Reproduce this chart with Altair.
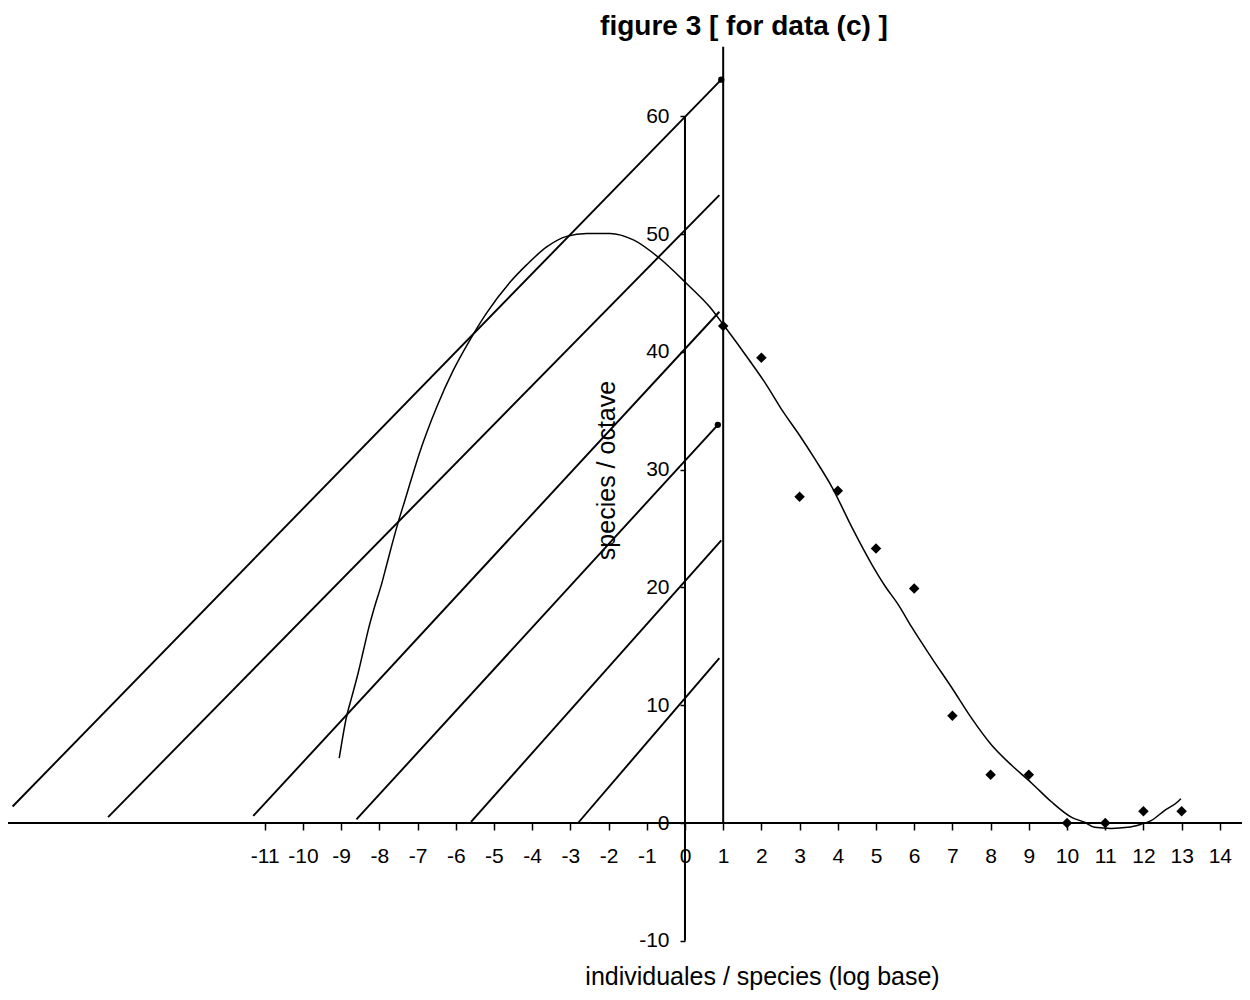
import altair as alt
import pandas as pd

# ---------------- data ----------------
curve_x = [-9.05, -8.86, -8.73, -8.55, -8.42, -8.29, -8.12, -7.94, -7.81, -7.68,
           -7.51, -7.33, -7.2, -6.94, -6.5, -6.07, -5.63, -5.19, -4.58, -4.14,
           -3.62, -3.1, -2.57, -1.96, -1.35, -0.65, 0.04, 0.65, 1.05, 1.68,
           2.11, 2.55, 2.98, 3.42, 3.85, 4.37, 4.9, 5.24, 5.59, 5.94,
           6.46, 6.98, 7.5, 8.03, 8.55, 9.07, 9.59, 10.11, 10.46, 10.72,
           11.16, 11.59, 11.94, 12.2, 12.55, 12.9, 12.98]
curve_y = [5.5, 9.0, 10.6, 12.8, 14.6, 16.4, 18.4, 20.3, 21.9, 23.5,
           25.5, 27.4, 28.8, 31.5, 35.3, 38.4, 41.0, 43.3, 45.9, 47.4,
           48.9, 49.8, 50.05, 50.05, 49.5, 47.9, 45.8, 43.8, 42.1, 39.3,
           37.3, 35.0, 33.0, 30.8, 28.5, 25.1, 21.9, 20.1, 18.5, 16.6,
           14.0, 11.5, 8.9, 6.6, 4.9, 3.4, 1.8, 0.5, 0.06, -0.37,
           -0.46, -0.37, -0.1, 0.2, 1.06, 1.8, 2.06]

obs_x = [1, 2, 3, 4, 5, 6, 7, 8, 9, 10, 11, 12, 13]
obs_y = [42.2, 39.5, 27.7, 28.2, 23.3, 19.9, 9.1, 4.1, 4.1, 0, 0, 1.0, 1.0]

seg_x1 = [-17.6, -15.1, -11.3, -8.6, -5.6, -2.8]
seg_y1 = [1.4, 0.5, 0.6, 0.3, 0.1, 0.0]
seg_x2 = [0.95, 0.9, 0.9, 0.86, 0.95, 0.9]
seg_y2 = [63.1, 53.3, 43.4, 33.8, 24.0, 14.0]

dot_x = [0.95, 0.86]
dot_y = [63.1, 33.8]

x_ticks = list(range(-11, 15))
y_ticks = [-10, 0, 10, 20, 30, 40, 50, 60]

y_axis_span = [-10, 60]
x1_line_span = [0, 65.9]

X_DOMAIN = [-17.72, 14.58]
Y_DOMAIN = [-11.63, 66.47]

W, H = 1234, 920
FONT = "Liberation Sans"
HYPHEN = "replace(datum.label, '\u2212', '-')"

# ---------------- tables ----------------
curve_df = pd.DataFrame({"x": curve_x, "y": curve_y, "i": list(range(len(curve_x)))})
obs_df = pd.DataFrame({"x": obs_x, "y": obs_y})
seg_df = pd.DataFrame({"x": seg_x1, "y": seg_y1, "x2": seg_x2, "y2": seg_y2})
dot_df = pd.DataFrame({"x": dot_x, "y": dot_y})
yax_df = pd.DataFrame({"x": [0], "y": [y_axis_span[0]], "y2": [y_axis_span[1]]})
x1_df = pd.DataFrame({"x": [1], "y": [x1_line_span[0]], "y2": [x1_line_span[1]]})
xax_df = pd.DataFrame({"y": [0]})

xs = alt.Scale(domain=X_DOMAIN, nice=False, zero=False)
ys = alt.Scale(domain=Y_DOMAIN, nice=False, zero=False)

x_axis = alt.Axis(
    values=x_ticks, orient="bottom", offset=-137, domain=False, grid=False,
    ticks=True, tickSize=7, tickWidth=1.5, tickColor="black",
    labelFont=FONT, labelFontSize=21, labelColor="black", labelPadding=15,
    labelFlush=False, labelOverlap=False, labelExpr=HYPHEN,
    title="individuales / species (log base)", titleFont=FONT, titleFontSize=25,
    titleFontWeight="normal", titleColor="black", titleX=754, titleY=161,
    titleAlign="center", titleBaseline="alphabetic",
)
y_axis = alt.Axis(
    values=y_ticks, orient="left", offset=-677, domain=False, grid=False,
    ticks=True, tickSize=5, tickWidth=1.5, tickColor="black",
    labelFont=FONT, labelFontSize=21, labelColor="black", labelPadding=11,
    labelFlush=False, labelOverlap=False, labelExpr=HYPHEN,
    title="species / octave", titleFont=FONT, titleFontSize=25,
    titleFontWeight="normal", titleColor="black", titleX=-79, titleY=430,
    titleAngle=270, titleAlign="center", titleBaseline="middle",
)

X = alt.X("x:Q", scale=xs, axis=x_axis)
Y = alt.Y("y:Q", scale=ys, axis=y_axis)

points = alt.Chart(obs_df).mark_point(
    shape="diamond", filled=True, size=110, color="black", opacity=1
).encode(x=X, y=Y)

xaxis_line = alt.Chart(xax_df).mark_rule(color="black", strokeWidth=2).encode(
    y=Y, x=alt.value(0), x2=alt.value(W),
)

yaxis_line = alt.Chart(yax_df).mark_rule(color="black", strokeWidth=2).encode(
    x=X, y=Y, y2="y2:Q",
)

x1_line = alt.Chart(x1_df).mark_rule(color="black", strokeWidth=2).encode(
    x=X, y=Y, y2="y2:Q",
)

segments = alt.Chart(seg_df).mark_rule(color="black", strokeWidth=1.9).encode(
    x=X, x2="x2:Q", y=Y, y2="y2:Q",
)

curve = alt.Chart(curve_df).mark_line(
    color="black", strokeWidth=1.5, interpolate="monotone"
).encode(
    x=X, y=Y, order="i:Q",
)

dots = alt.Chart(dot_df).mark_circle(size=40, color="black", opacity=1).encode(
    x=X, y=Y,
)

chart = alt.layer(
    points, xaxis_line, yaxis_line, x1_line, segments, curve, dots
).properties(
    width=W, height=H,
    background="white",
    autosize=alt.AutoSizeParams(type="none"),
    padding={"left": 0, "top": 32, "right": 0, "bottom": 30},
    title=alt.TitleParams(
        "figure 3 [ for data (c) ]", font=FONT, fontSize=28, fontWeight="bold",
        color="black", anchor="middle", frame="group", dx=119, dy=31, offset=8,
        baseline="alphabetic",
    ),
).configure_view(stroke=None)

chart.save("out.html", embed_options={"renderer": "svg", "actions": False})
